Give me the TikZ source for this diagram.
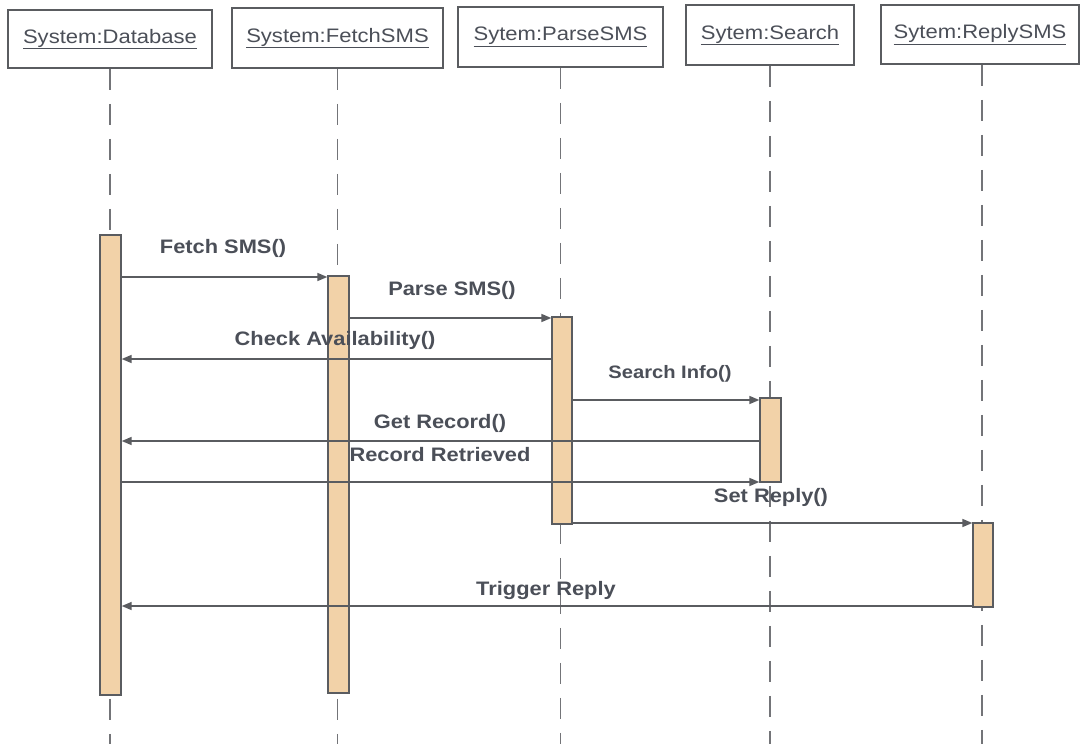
\documentclass[tikz,border=0pt]{standalone}
\usepackage{fontspec}
\setmainfont{Liberation Sans}
\usetikzlibrary{arrows.meta}
\definecolor{txt}{HTML}{4B4F58}
\definecolor{ln}{HTML}{5A5C60}
\definecolor{barfill}{HTML}{F2D2A8}
\newfontfamily\hdrfont[FakeStretch=1.13]{Liberation Sans}
\newfontfamily\lblfont[FakeStretch=1.12]{Liberation Sans Bold}
\begin{document}
\begin{tikzpicture}[x=1pt,y=-1pt,
  hdr/.style={draw=ln,line width=1.5pt,fill=white,inner sep=0pt,text=txt,font=\hdrfont\fontsize{19.5}{21}\selectfont},
  lifeline/.style={draw=ln!85,line width=1.6pt,dash pattern=on 21pt off 14pt},
  actbar/.style={draw=ln,line width=1.4pt,fill=barfill,inner sep=0pt,minimum width=21pt},
  msg/.style={draw=ln,line width=1.6pt,-{Triangle[length=10pt,width=8pt]}},
  lbl/.style={text=txt,font=\lblfont\fontsize{19.5}{21}\selectfont,inner sep=0pt},
  lbls/.style={text=txt,font=\lblfont\fontsize{18}{19}\selectfont,inner sep=0pt}]
\useasboundingbox[fill=white] (0,0) rectangle (1082,744);

% header boxes
\node[hdr,minimum width=204pt,minimum height=58pt] (h1) at (110,39) {\underline{System:Database}};
\node[hdr,minimum width=211pt,minimum height=60pt] (h2) at (337.5,38) {\underline{System:FetchSMS}};
\node[hdr,minimum width=205pt,minimum height=60pt] (h3) at (560.5,37) {\underline{Sytem:ParseSMS}};
\node[hdr,minimum width=168pt,minimum height=60pt] (h4) at (770,35) {\underline{Sytem:Search}};
\node[hdr,minimum width=198pt,minimum height=59pt] (h5) at (980,34.5) {\underline{Sytem:ReplySMS}};

% lifeline ends
\coordinate (e1) at (110,744);
\coordinate (e2) at (337.5,744);
\coordinate (e3) at (560.5,744);
\coordinate (e4) at (770,744);
\coordinate (e5) at (982,744);
\draw[lifeline] (h1.south) -- (e1);
\draw[lifeline] (h2.south) -- (e2);
\draw[lifeline] (h3.south) -- (e3);
\draw[lifeline] (h4.south) -- (e4);
\draw[lifeline] ([xshift=2pt]h5.south) -- (e5);

% activation bars
\node[actbar,minimum height=460pt] (b1) at (110.5,465) {};
\node[actbar,minimum height=417pt] (b2) at (338.5,484.5) {};
\node[actbar,minimum height=207pt,minimum width=20pt] (b3) at (562,420.5) {};
\node[actbar,minimum height=84pt] (b4) at (770.5,440) {};
\node[actbar,minimum height=84pt,minimum width=20pt] (b5) at (983,565) {};

% message rows
\coordinate (r1) at (0,277);
\coordinate (r2) at (0,318);
\coordinate (r3) at (0,359);
\coordinate (r4) at (0,400);
\coordinate (r5) at (0,441);
\coordinate (r6) at (0,482);
\coordinate (r7) at (0,523);
\coordinate (r8) at (0,606);

\draw[msg] (b1.east |- r1) -- (b2.west |- r1);
\draw[msg] (b2.east |- r2) -- (b3.west |- r2);
\draw[msg] (b3.west |- r3) -- (b1.east |- r3);
\draw[msg] (b3.east |- r4) -- (b4.west |- r4);
\draw[msg] (b4.west |- r5) -- (b1.east |- r5);
\draw[msg] (b1.east |- r6) -- (b4.west |- r6);
\draw[msg] (b3.east |- r7) -- (b5.west |- r7);
\draw[msg] (b5.west |- r8) -- (b1.east |- r8);

% labels
\node[lbl] (l1) at (223,248) {Fetch SMS()};
\node[lbl] (l2) at (452,290) {Parse SMS()};
\node[lbl] (l3) at (335,340) {Check Availability()};
\node[lbls] (l4) at (670,374) {Search Info()};
\node[lbl] (l5) at (440,423) {Get Record()};
\node[lbl] (l6) at (440,455) {Record Retrieved};
\node[lbl] (l7) at (771,497) {Set Reply()};
\node[lbl] (l8) at (546,590) {Trigger Reply};
\end{tikzpicture}
\end{document}
